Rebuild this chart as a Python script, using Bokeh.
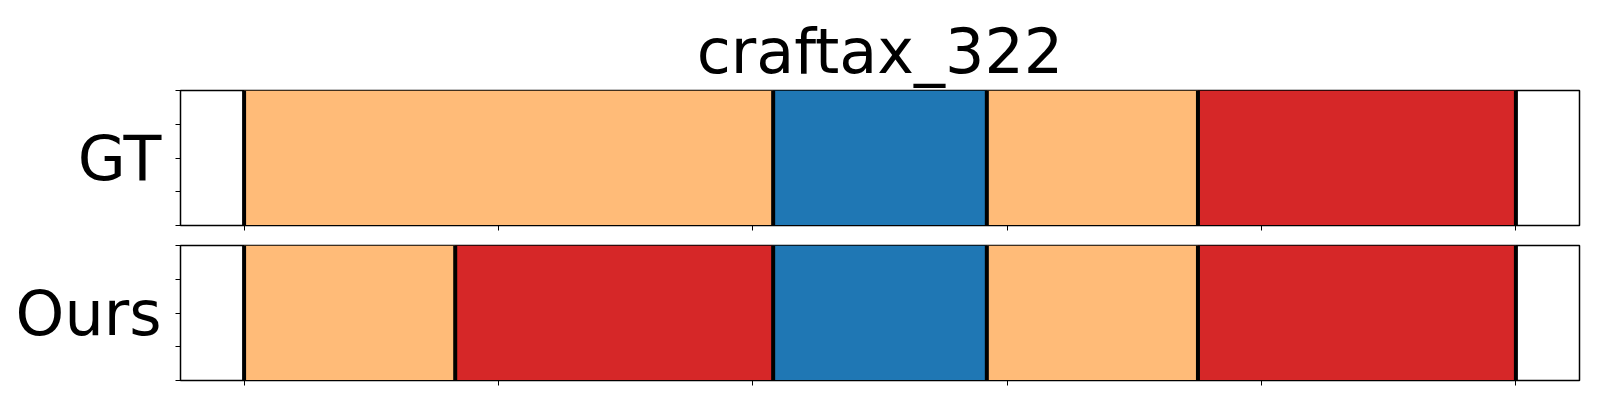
from bokeh.plotting import figure
from bokeh.layouts import column
from bokeh.models import Range1d, FixedTicker, Title, CustomJSTickFormatter
from bokeh.embed import file_html
from bokeh.resources import INLINE

title = "craftax_322"
rows = ["GT", "Ours"]
# segment boundaries (frame index) and class colours per row
gt_bounds = [0, 208, 292, 375, 500]
gt_classes = ["orange", "blue", "orange", "red"]
ours_bounds = [0, 83, 208, 292, 375, 500]
ours_classes = ["orange", "red", "blue", "orange", "red"]
colors = {"orange": "#ffbb78", "blue": "#1f77b4", "red": "#d62728"}
x_ticks = [0, 100, 200, 300, 400, 500]
y_ticks = [0, 0.25, 0.5, 0.75, 1.0]


def make_panel(label, bounds, classes, height, top, bottom, with_title=False):
    p = figure(width=1584, height=height, output_backend="svg", toolbar_location=None,
               x_range=Range1d(-25, 525), y_range=Range1d(0, 1),
               min_border_left=180, min_border_right=5,
               min_border_top=top, min_border_bottom=bottom)
    if with_title:
        p.add_layout(Title(text=title, text_font="DejaVu Sans", text_font_size="62px",
                           text_font_style="normal", align="center", text_color="black",
                           standoff=6), "above")
    p.quad(left=bounds[:-1], right=bounds[1:], bottom=0, top=1,
           fill_color=[colors[c] for c in classes], line_color=None)
    p.segment(x0=bounds, x1=bounds, y0=0, y1=1, line_color="black", line_width=4)
    p.grid.visible = False
    p.outline_line_color = "black"
    p.outline_line_width = 1.5
    p.xaxis.ticker = FixedTicker(ticks=x_ticks)
    p.yaxis.ticker = FixedTicker(ticks=y_ticks)
    for ax in (p.xaxis, p.yaxis):
        ax.formatter = CustomJSTickFormatter(code="return ''")
        ax.major_label_text_font_size = "8px"
        ax.minor_tick_line_color = None
        ax.major_tick_out = 5
        ax.major_tick_in = 0
        ax.axis_line_color = "black"
        ax.major_tick_line_color = "black"
        ax.major_label_standoff = 0
    p.yaxis.axis_label = label
    p.yaxis.axis_label_orientation = "horizontal"
    p.yaxis.axis_label_text_font = "DejaVu Sans"
    p.yaxis.axis_label_text_font_size = "62px"
    p.yaxis.axis_label_text_font_style = "normal"
    p.yaxis.axis_label_text_color = "black"
    p.yaxis.axis_label_standoff = 14
    return p


p1 = make_panel(rows[0], gt_bounds, gt_classes, 235, 90, 10, with_title=True)
p2 = make_panel(rows[1], ours_bounds, ours_classes, 155, 10, 10)
p = column(p1, p2, spacing=0)

open("out.html", "w").write(file_html(p, INLINE))
